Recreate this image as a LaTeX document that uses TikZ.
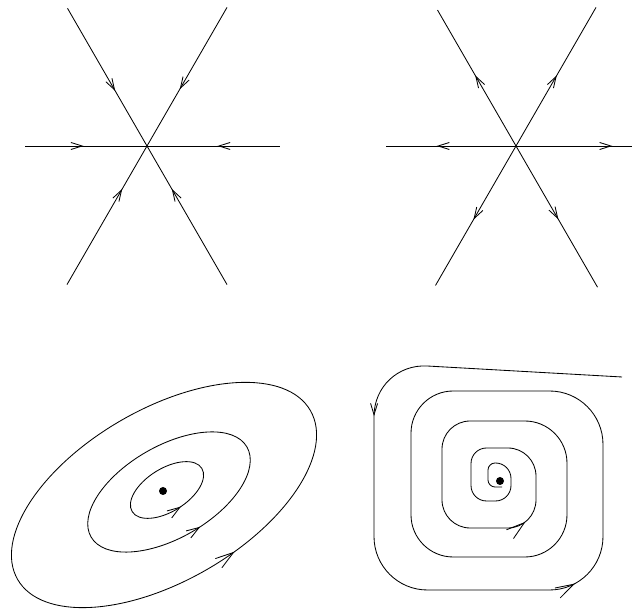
\documentclass[tikz,border=0pt]{standalone}
\usepackage{tikz}
\usetikzlibrary{arrows.meta, decorations.markings}

\begin{document}
\begin{tikzpicture}[x=0.025cm, y=0.025cm, line width=0.6pt,
    sbarb/.tip={Straight Barb[length=8pt, width=5pt]},
    mbarb/.tip={Straight Barb[length=9pt, width=6pt]},
    bbarb/.tip={Straight Barb[length=13pt, width=8pt]},
    inflow/.style={postaction={decorate}, decoration={markings, mark=at position #1 with {\arrowreversed{sbarb}}}},
    outflow/.style={postaction={decorate}, decoration={markings, mark=at position #1 with {\arrow{sbarb}}}},
    orbit/.style={postaction={decorate}, decoration={markings, mark=at position #1 with {\arrow{mbarb}}}},
    big orbit/.style={postaction={decorate}, decoration={markings, mark=at position #1 with {\arrow{bbarb}}}}]
    \useasboundingbox (0,0) rectangle (632,610);

    % Sink
    \coordinate (sink) at (147,464);
    \draw[inflow=0.40] (sink) -- ++(120:159);
    \draw[inflow=0.41] (sink) -- ++(60:160);
    \draw[inflow=0.31] (sink) -- ++(240:160);
    \draw[inflow=0.31] (sink) -- ++(300:160);
    \draw[inflow=0.52] (sink) -- ++(180:122);
    \draw[inflow=0.53] (sink) -- ++(0:133);

    % Source
    \coordinate (source) at (516,464);
    \draw[outflow=0.52] (source) -- ++(120:157);
    \draw[outflow=0.51] (source) -- ++(60:160);
    \draw[outflow=0.53] (source) -- ++(240:161);
    \draw[outflow=0.52] (source) -- ++(300:163);
    \draw[outflow=0.61] (source) -- ++(180:130);
    \draw[outflow=0.83] (source) -- ++(0:116);

    % Centre
    \coordinate (centre) at (163,119);
    \draw[big orbit=0.79, rotate around={30:(164,115)}] (164,115) ellipse [x radius=169, y radius=86];
    \draw[orbit=0.772, rotate around={30:(169,118)}] (169,118) ellipse [x radius=90, y radius=46];
    \draw[orbit=0.765, rotate around={32:(167,120)}] (167,120) ellipse [x radius=41, y radius=21.5];
    \fill (centre) circle [radius=4];

    % Stable focus
    \coordinate (focus) at (500,129);
    \draw[postaction={decorate}, decoration={markings,
            mark=at position 197pt with {\arrow{sbarb}},
            mark=at position 448pt with {\arrow{bbarb}},
            mark=at position 1195pt with {\arrow{bbarb}}}]
        (622,233) [rounded corners=38pt] -- (374,247) -- (374,20) -- (603,20) -- (603,219)
        [rounded corners=30pt] -- (411,219) -- (411,53) -- (567,53) -- (567,189)
        [rounded corners=20pt] -- (442,189) -- (442,82) -- (536,82) -- (536,162)
        [rounded corners=11pt] -- (471,162) -- (471,109) -- (511,109) -- (511,147)
        [rounded corners=5pt] -- (488,147) -- (488,123) -- (502,123);
    \fill (focus) circle [radius=4];
\end{tikzpicture}
\end{document}
